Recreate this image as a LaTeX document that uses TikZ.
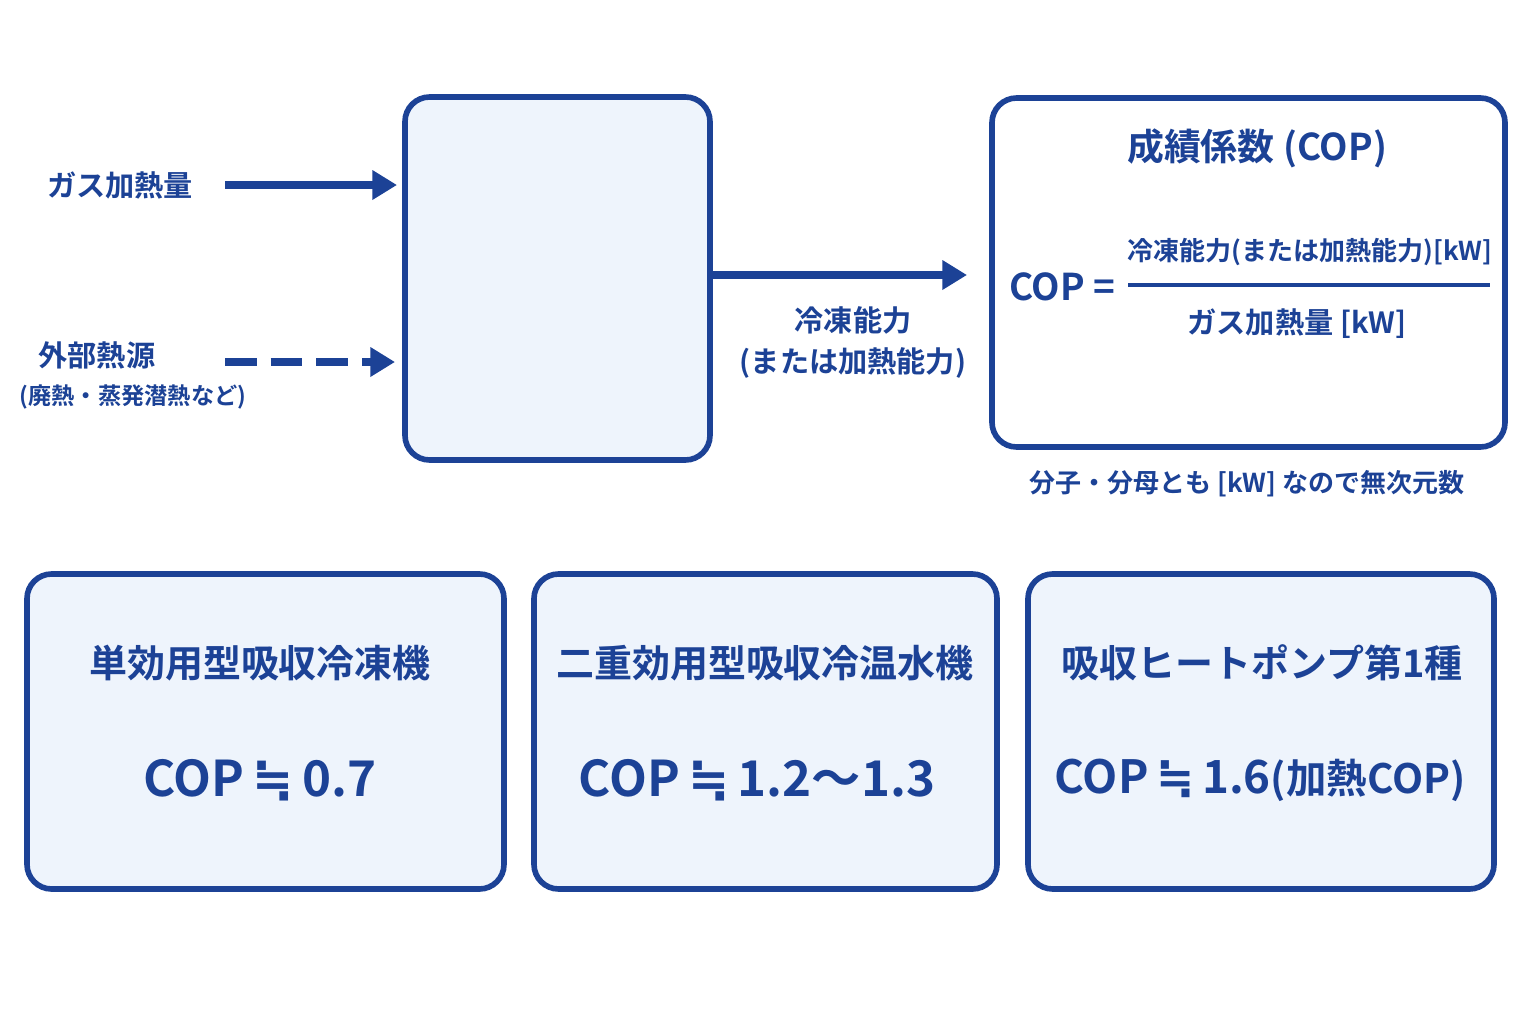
\documentclass[tikz,border=0pt]{standalone}
\usepackage{fontspec}
\setmainfont{Noto Sans CJK JP}[BoldFont={Noto Sans CJK JP Bold}]
\newfontfamily\dv{DejaVu Sans}
\newcommand{\approxeq}{{\dv ≒}}
\usetikzlibrary{arrows.meta,positioning}
\definecolor{navy}{HTML}{1C4296}
\definecolor{pale}{HTML}{EEF4FC}
\tikzset{
  box/.style={draw=navy,line width=1.6pt,fill=pale,rounded corners=7pt},
  wbox/.style={draw=navy,line width=1.6pt,fill=white,rounded corners=7pt},
  lbl/.style={text=navy,font=\bfseries\fontsize{8.3}{10}\selectfont,inner sep=1pt},
  slbl/.style={text=navy,font=\bfseries\fontsize{6.6}{8}\selectfont,inner sep=1pt},
  ttl/.style={text=navy,font=\bfseries\fontsize{10.8}{13}\selectfont,inner sep=1pt},
  big/.style={text=navy,font=\bfseries\fontsize{14}{17}\selectfont,inner sep=1pt},
  arr/.style={draw=navy,line width=2pt,-{Triangle[length=7pt,width=8pt]}},
}
\begin{document}
\begin{tikzpicture}[x=0.01cm,y=-0.01cm]
\useasboundingbox[fill=white] (0,0) rectangle (1536,1024);
% top row
\draw[box] (405,97) rectangle (710,460);
\draw[wbox] (992,98) rectangle (1505,447);
\coordinate (mainw1) at (397,185);
\coordinate (mainw2) at (395,362);
\coordinate (maine) at (710,275);
\coordinate (copw) at (967,275);
\node[lbl] (gas) at (120,185) {ガス加熱量};
\node[lbl] (ext) at (97,355) {外部熱源};
\node[slbl] (extsub) at (133,397) {(廃熱・蒸発潜熱など)};
\coordinate (gasend) at (225,185);
\coordinate (extend) at (225,362);
\draw[arr] (gasend) -- (mainw1);
\draw[arr,dash pattern=on 9pt off 4pt] (extend) -- (mainw2);
\draw[arr] (maine) -- (copw);
\node[lbl] (cap) at (853,320) {冷凍能力};
\node[lbl] (capsub) at (853,363) {(または加熱能力)};
% COP box
\node[lbl,font=\bfseries\fontsize{10.5}{13}\selectfont] (coptitle) at (1257,148) {成績係数 (COP)};
\node[lbl,font=\bfseries\fontsize{10.5}{13}\selectfont] (copeq) at (1062,287) {COP =};
\node[slbl,font=\bfseries\fontsize{7.4}{9}\selectfont] (num) at (1310,252) {冷凍能力(または加熱能力)[kW]};
\node[lbl] (den) at (1297,324) {ガス加熱量 [kW]};
\coordinate (fracl) at (1128,285);
\coordinate (fracr) at (1490,285);
\draw[navy,line width=1.4pt] (fracl) -- (fracr);
\node[slbl,font=\bfseries\fontsize{7.4}{9}\selectfont] (note) at (1247,484) {分子・分母とも [kW] なので無次元数};
% bottom row
\draw[box] (27,574) rectangle (504,889);
\draw[box] (534,574) rectangle (997,889);
\draw[box] (1028,574) rectangle (1494,889);
\node[ttl] (t1) at (260,663) {単効用型吸収冷凍機};
\node[ttl] (t2) at (765,663) {二重効用型吸収冷温水機};
\node[ttl] (t3) at (1262,663) {吸収ヒートポンプ第1種};
\node[big] (v1) at (260,780) {COP\,\approxeq\,0.7};
\node[big] (v2) at (757,780) {COP\,\approxeq\,1.2〜1.3};
\node[big,font=\bfseries\fontsize{13}{16}\selectfont] (v3) at (1260,780) {COP\,\approxeq\,1.6\fontsize{11.5}{14}\selectfont(加熱COP)};
\end{tikzpicture}
\end{document}
